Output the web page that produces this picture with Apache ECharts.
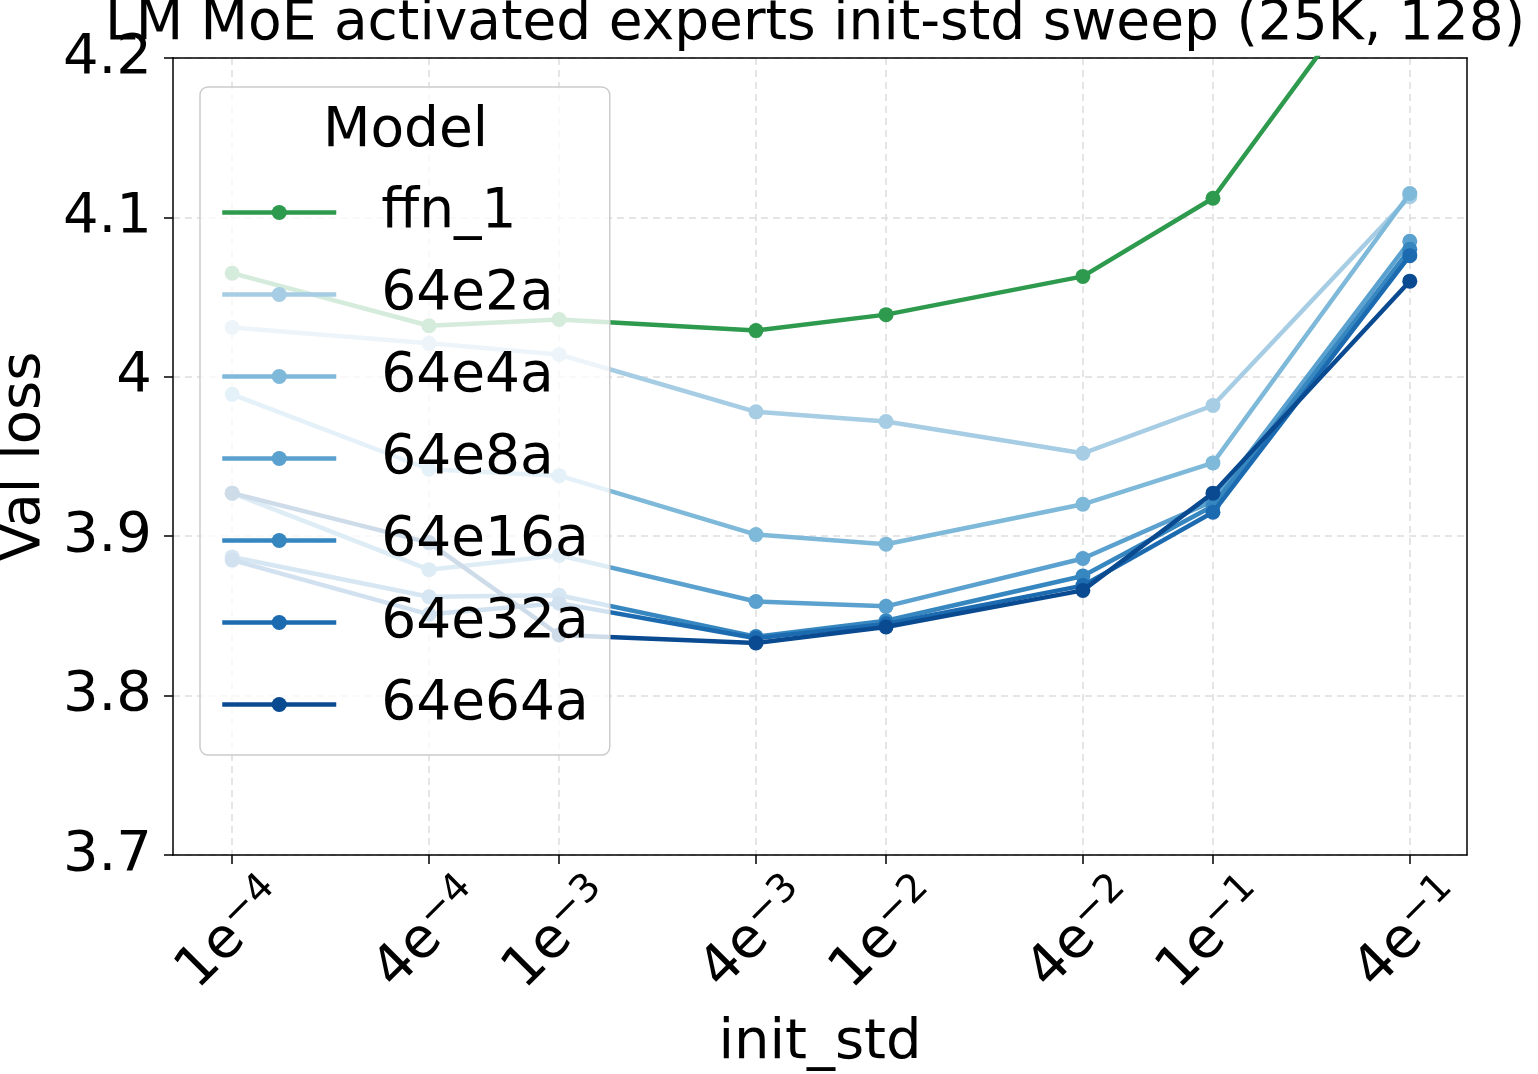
<!DOCTYPE html>
<html>
<head>
<meta charset="utf-8">
<title>LM MoE activated experts init-std sweep</title>
<script src="https://cdn.jsdelivr.net/npm/echarts@6/dist/echarts.min.js"></script>
</head>
<body style="margin:0">
<div id="main" style="width:1538px;height:1074px;"></div>
<script>
// x positions (init_std), drawn on a log10 value axis
var initStd = [1e-4, 4e-4, 1e-3, 4e-3, 1e-2, 4e-2, 1e-1, 4e-1];
var tickMant = ['1', '4', '1', '4', '1', '4', '1', '4'];
var tickExp = ['\u22124', '\u22124', '\u22123', '\u22123', '\u22122', '\u22122', '\u22121', '\u22121'];

var models = ['ffn_1', '64e2a', '64e4a', '64e8a', '64e16a', '64e32a', '64e64a'];
var ffn_1 = [4.065, 4.032, 4.036, 4.029, 4.039, 4.063, 4.112, 4.28];
var e2a = [4.031, 4.021, 4.014, 3.978, 3.972, 3.952, 3.982, 4.113];
var e4a = [3.989, 3.942, 3.938, 3.901, 3.895, 3.920, 3.946, 4.115];
var e8a = [3.927, 3.879, 3.888, 3.859, 3.856, 3.886, 3.922, 4.085];
var e16a = [3.887, 3.862, 3.863, 3.837, 3.847, 3.875, 3.919, 4.080];
var e32a = [3.885, 3.851, 3.858, 3.836, 3.845, 3.869, 3.915, 4.076];
var e64a = [3.927, 3.896, 3.838, 3.833, 3.843, 3.866, 3.927, 4.060];
var colors = ['#2e9a4e', '#a6cde4', '#7fb9da', '#5aa1cf', '#3686c0', '#1c6aaf', '#0a4a90'];

var font = 'DejaVu Sans';
var fs = 56;
var logTicks = initStd.map(function (v) { return Math.log10(v); });

function tickLabel(v) {
  var best = 0;
  for (var i = 1; i < logTicks.length; i++) {
    if (Math.abs(logTicks[i] - v) < Math.abs(logTicks[best] - v)) best = i;
  }
  return '{m|' + tickMant[best] + 'e}{s|' + tickExp[best] + '}';
}

var allData = [ffn_1, e2a, e4a, e8a, e16a, e32a, e64a];
var series = models.map(function (name, k) {
  return {
    name: name,
    type: 'line',
    data: initStd.map(function (x, i) { return [Math.log10(x), allData[k][i]]; }),
    symbol: 'circle',
    symbolSize: 15,
    lineStyle: { width: 4.5, color: colors[k] },
    itemStyle: { color: colors[k] },
    z: 2 + k * 0.01,
    emphasis: { disabled: true }
  };
});

var dash = { color: '#dddddd', width: 1.5, type: [7, 5] };
var frame = { show: true, lineStyle: { color: '#000', width: 1.5 } };

var myChart = echarts.init(document.getElementById('main'));
myChart.setOption({
  animation: false,
  textStyle: { fontFamily: font },
  title: [{
    text: 'LM MoE activated experts init-std sweep (25K, 128)',
    left: 105, top: -3, padding: 0,
    textStyle: { fontSize: 55, fontWeight: 'normal', color: '#000', fontFamily: font }
  }, {
    text: 'Model',
    left: 323, top: 104, padding: 0,
    textStyle: { fontSize: 55, fontWeight: 'normal', color: '#000', fontFamily: font }
  }],
  legend: {
    data: models,
    orient: 'vertical',
    left: 200, top: 87,
    padding: [98, 21, 23, 20],
    itemGap: 27,
    itemWidth: 114,
    itemHeight: 19,
    lineStyle: { width: 4.5 },
    backgroundColor: 'rgba(255,255,255,0.8)',
    borderColor: '#cccccc',
    borderWidth: 1.5,
    borderRadius: 8,
    textStyle: { fontSize: 55, color: '#000', fontFamily: font, padding: [0, 0, 0, 40] },
    selectedMode: false
  },
  grid: {
    left: 173, right: 71, top: 58, bottom: 219,
    outerBoundsMode: 'none',
    containLabel: false
  },
  xAxis: [{
    type: 'value',
    min: -4.181, max: -0.223,
    name: 'init_std',
    nameLocation: 'middle',
    nameGap: 160,
    nameTextStyle: { fontSize: fs, color: '#000', fontFamily: font },
    axisLine: frame,
    axisTick: { show: true, length: 9, customValues: logTicks, lineStyle: { color: '#000', width: 1.5 } },
    axisLabel: {
      customValues: logTicks,
      rotate: 45,
      margin: 80,
      align: 'center',
      verticalAlign: 'middle',
      formatter: tickLabel,
      rich: {
        m: { fontSize: fs, color: '#000', fontFamily: font },
        s: { fontSize: 39, color: '#000', fontFamily: font, verticalAlign: 'top', padding: [0, 0, 24, 0] }
      }
    },
    splitLine: { show: true, lineStyle: dash }
  }, {
    type: 'value', position: 'top',
    min: -4.181, max: -0.223,
    axisLine: frame, axisTick: { show: false }, axisLabel: { show: false }, splitLine: { show: false }
  }],
  yAxis: [{
    type: 'value',
    min: 3.7, max: 4.2, interval: 0.1,
    name: 'Val loss',
    nameLocation: 'middle',
    nameGap: 120,
    nameTextStyle: { fontSize: fs, color: '#000', fontFamily: font },
    axisLine: frame,
    axisTick: { show: true, length: 9, lineStyle: { color: '#000', width: 1.5 } },
    axisLabel: { fontSize: fs, color: '#000', margin: 21, fontFamily: font },
    splitLine: { show: true, lineStyle: dash }
  }, {
    type: 'value', position: 'right',
    min: 3.7, max: 4.2, interval: 0.1,
    axisLine: frame, axisTick: { show: false }, axisLabel: { show: false }, splitLine: { show: false }
  }],
  series: series
});
</script>
</body>
</html>
